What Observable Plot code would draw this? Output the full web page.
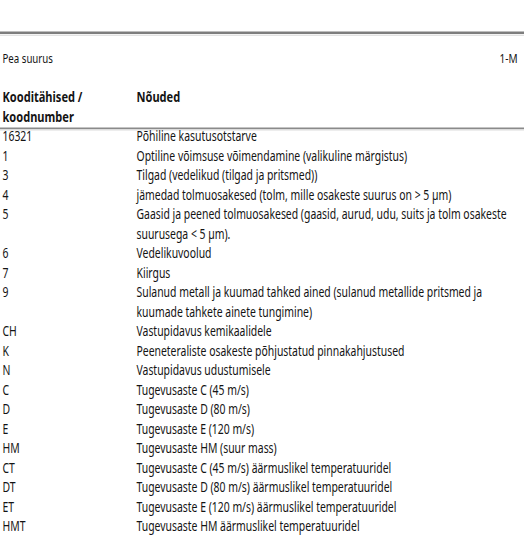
<!DOCTYPE html>
<html>
<head>
<meta charset="utf-8">
<script src="https://cdn.jsdelivr.net/npm/d3@7"></script>
<script src="https://cdn.jsdelivr.net/npm/@observablehq/plot@0.6"></script>
<style>
  html, body { margin: 0; padding: 0; background: #fff; }
  #chart svg { display: block; }
</style>
</head>
<body>
<div id="chart"></div>
<script>
// ---- data ----
const sectionTitle = "Pea suurus";
const sectionTag = "1-M";
const headerCodes = ["Kooditähised /", "koodnumber"];
const headerReq = ["Nõuded"];
const codes = ["16321", "1", "3", "4", "5", "6", "7", "9", "CH", "K", "N", "C", "D", "E", "HM", "CT", "DT", "ET", "HMT"];
const requirements = [
  ["Põhiline kasutusotstarve"],
  ["Optiline võimsuse võimendamine (valikuline märgistus)"],
  ["Tilgad (vedelikud (tilgad ja pritsmed))"],
  ["jämedad tolmuosakesed (tolm, mille osakeste suurus on > 5 µm)"],
  ["Gaasid ja peened tolmuosakesed (gaasid, aurud, udu, suits ja tolm osakeste", "suurusega < 5 µm)."],
  ["Vedelikuvoolud"],
  ["Kiirgus"],
  ["Sulanud metall ja kuumad tahked ained (sulanud metallide pritsmed ja", "kuumade tahkete ainete tungimine)"],
  ["Vastupidavus kemikaalidele"],
  ["Peeneteraliste osakeste põhjustatud pinnakahjustused"],
  ["Vastupidavus udustumisele"],
  ["Tugevusaste C (45 m/s)"],
  ["Tugevusaste D (80 m/s)"],
  ["Tugevusaste E (120 m/s)"],
  ["Tugevusaste HM (suur mass)"],
  ["Tugevusaste C (45 m/s) äärmuslikel temperatuuridel"],
  ["Tugevusaste D (80 m/s) äärmuslikel temperatuuridel"],
  ["Tugevusaste E (120 m/s) äärmuslikel temperatuuridel"],
  ["Tugevusaste HM äärmuslikel temperatuuridel"]
];

// ---- build table cells (line index based) ----
const cells = [];
let line = 0;
codes.forEach((c, i) => {
  cells.push({col: 0, line, text: c});
  requirements[i].forEach((t, k) => cells.push({col: 1, line: line + k, text: t}));
  line += requirements[i].length;
});
const headerCells = [
  ...headerCodes.map((t, k) => ({col: 0, line: k - 2, text: t})),
  ...headerReq.map((t, k) => ({col: 1, line: k - 2, text: t}))
];

const font = "'Noto Sans', 'DejaVu Sans', sans-serif";
const fs = 14;
const squeeze = 0.745;     // horizontal condensing to imitate a condensed face
const squeezeBold = 0.79;
const ink = "#141414";

const chart = Plot.plot({
  width: 524,
  height: 541,
  margin: 0,
  style: {fontFamily: font, background: "#fff", color: ink},
  x: {type: "linear", domain: [0, 1], range: [2, 136], axis: null},
  y: {type: "linear", domain: [0, 1], range: [136.5, 156], axis: null},
  marks: [
    // top rule
    Plot.ruleY([-5.35], {stroke: "#7d7d7d", strokeWidth: 2.4}),
    Plot.ruleY([-5.22], {stroke: "#d6d6d6", strokeWidth: 1}),
    // section title
    Plot.text([sectionTitle], {x: 0, y: -4, text: d => d, textAnchor: "start", lineAnchor: "middle", fontSize: 13, fill: ink}),
    Plot.text([sectionTag], {frameAnchor: "right", y: -4, text: d => d, textAnchor: "end", lineAnchor: "middle", dx: -7, fontSize: 13.5, fill: ink}),
    // header
    Plot.text(headerCells, {x: "col", y: "line", text: "text", textAnchor: "start", lineAnchor: "middle", fontSize: fs, fontWeight: "bold", fill: ink}),
    // header rule
    Plot.ruleY([-0.44], {stroke: "#8a8a8a", strokeWidth: 1.6}),
    Plot.ruleY([-0.36], {stroke: "#d8d8d8", strokeWidth: 1}),
    // body
    Plot.text(cells, {x: "col", y: "line", text: "text", textAnchor: "start", lineAnchor: "middle", fontSize: fs, fill: ink})
  ]
});

// condense every text horizontally around its own anchor
chart.querySelectorAll("text").forEach(t => {
  const x = +(t.getAttribute("x") || 0);
  const tr = t.getAttribute("transform") || "";
  const g = t.closest("g");
  const bold = g && (g.getAttribute("font-weight") === "bold" || t.getAttribute("font-weight") === "bold");
  const s = bold ? squeezeBold : squeeze;
  t.setAttribute("transform", `${tr} translate(${x},0) scale(${s},1) translate(${-x},0)`.trim());
});

document.getElementById("chart").append(chart);
</script>
</body>
</html>
